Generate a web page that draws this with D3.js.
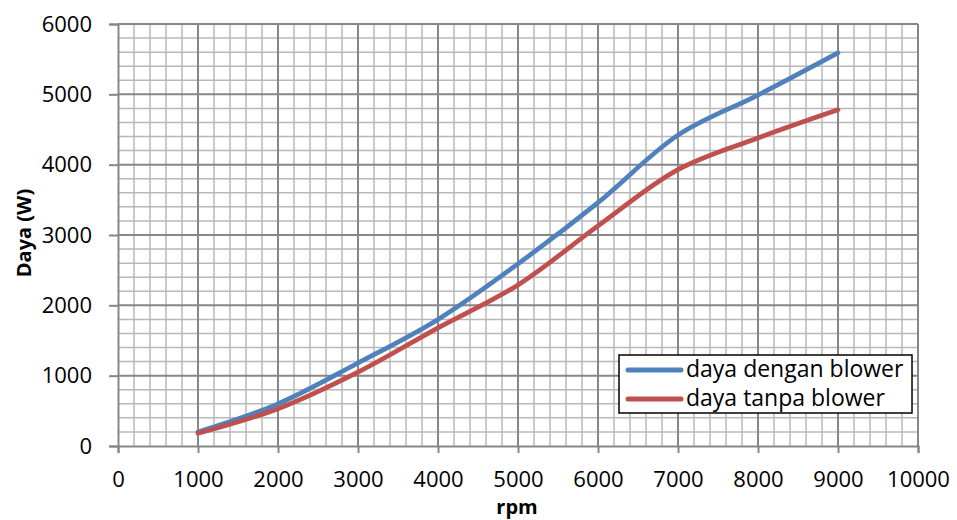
<!DOCTYPE html>
<html>
<head>
<meta charset="utf-8">
<script src="https://cdn.jsdelivr.net/npm/d3@7"></script>
<style>
  body { margin: 0; background: #fff; }
  text { font-family: "Open Sans", "Noto Sans", sans-serif; }
</style>
</head>
<body>
<div id="container"></div>
<script>
const width = 957
const height = 520

// data
const rpm = [1000, 2000, 3000, 4000, 5000, 6000, 7000, 8000, 9000]
const dayaDengan = [200, 600, 1180, 1800, 2590, 3460, 4420, 4990, 5590]
const dayaTanpa = [180, 530, 1050, 1680, 2290, 3130, 3930, 4380, 4780]
const seriesNames = ['daya dengan blower', 'daya tanpa blower']
const xTicks = d3.range(0, 10001, 1000)
const yTicks = d3.range(0, 6001, 1000)

const margin = { left: 118, right: 39, top: 24, bottom: 74 }
const iw = width - margin.left - margin.right
const ih = height - margin.top - margin.bottom

const svg = d3.select('#container')
  .append('svg')
  .attr('width', width)
  .attr('height', height)

const x = d3.scaleLinear().domain([0, 10000]).range([margin.left, margin.left + iw])
const y = d3.scaleLinear().domain([0, 6000]).range([margin.top + ih, margin.top])

// minor grid
const minorX = d3.range(200, 10000, 200).filter(v => v % 1000 !== 0)
const minorY = d3.range(200, 6000, 200).filter(v => v % 1000 !== 0)
svg.append('g').selectAll('line').data(minorX).enter().append('line')
  .attr('x1', d => x(d)).attr('x2', d => x(d))
  .attr('y1', y(0)).attr('y2', y(6000))
  .attr('stroke', '#b8b8b8').attr('stroke-width', 1.5)
svg.append('g').selectAll('line').data(minorY).enter().append('line')
  .attr('x1', x(0)).attr('x2', x(10000))
  .attr('y1', d => y(d)).attr('y2', d => y(d))
  .attr('stroke', '#b8b8b8').attr('stroke-width', 1.5)

// major grid
svg.append('g').selectAll('line').data(xTicks.slice(1)).enter().append('line')
  .attr('x1', d => x(d)).attr('x2', d => x(d))
  .attr('y1', y(0)).attr('y2', y(6000))
  .attr('stroke', '#878787').attr('stroke-width', 2)
svg.append('g').selectAll('line').data(yTicks.slice(1)).enter().append('line')
  .attr('x1', x(0)).attr('x2', x(10000))
  .attr('y1', d => y(d)).attr('y2', d => y(d))
  .attr('stroke', '#878787').attr('stroke-width', 2)

// axes
const fmt = d3.format('d')
const xAxis = svg.append('g')
  .attr('transform', `translate(0,${y(0)})`)
  .call(d3.axisBottom(x).tickValues(xTicks).tickFormat(fmt).tickSize(7).tickPadding(18))
const yAxis = svg.append('g')
  .attr('transform', `translate(${x(0)},0)`)
  .call(d3.axisLeft(y).tickValues(yTicks).tickFormat(fmt).tickSize(9).tickPadding(17))

for (const ax of [xAxis, yAxis]) {
  ax.select('.domain').attr('stroke', '#878787').attr('stroke-width', 2)
  ax.selectAll('.tick line').attr('stroke', '#878787').attr('stroke-width', 2)
  ax.selectAll('.tick text')
    .attr('fill', '#000')
    .style('font-size', '22px')
    .style('font-family', '"Open Sans", sans-serif')
}

// axis titles
svg.append('text')
  .attr('x', 517).attr('y', 514)
  .attr('text-anchor', 'middle')
  .style('font-size', '20px').style('font-weight', 'bold')
  .text('rpm')
svg.append('text')
  .attr('transform', `translate(31,${y(3000) - 2}) rotate(-90)`)
  .attr('text-anchor', 'middle')
  .style('font-size', '20px').style('font-weight', 'bold')
  .text('Daya (W)')

// lines
const colors = ['#4f81bd', '#c0504d']
const line = d3.line()
  .x(d => x(d[0]))
  .y(d => y(d[1]))
  .curve(d3.curveCatmullRom.alpha(0.5))

const series = [dayaDengan, dayaTanpa]
series.forEach((vals, i) => {
  svg.append('path')
    .datum(rpm.map((r, k) => [r, vals[k]]))
    .attr('fill', 'none')
    .attr('stroke', colors[i])
    .attr('stroke-width', 4.7)
    .attr('stroke-linecap', 'round')
    .attr('stroke-linejoin', 'round')
    .attr('d', line)
})

// legend
const lg = svg.append('g').attr('transform', 'translate(619,355)')
lg.append('rect')
  .attr('width', 293).attr('height', 58)
  .attr('fill', '#fff').attr('stroke', '#000').attr('stroke-width', 1.5)
seriesNames.forEach((name, i) => {
  const yy = 15 + i * 29
  lg.append('line')
    .attr('x1', 9).attr('x2', 62).attr('y1', yy).attr('y2', yy)
    .attr('stroke', colors[i]).attr('stroke-width', 5)
    .attr('stroke-linecap', 'round')
  lg.append('text')
    .attr('x', 67).attr('y', yy + 7)
    .style('font-size', '23px')
    .text(name)
})
</script>
</body>
</html>
